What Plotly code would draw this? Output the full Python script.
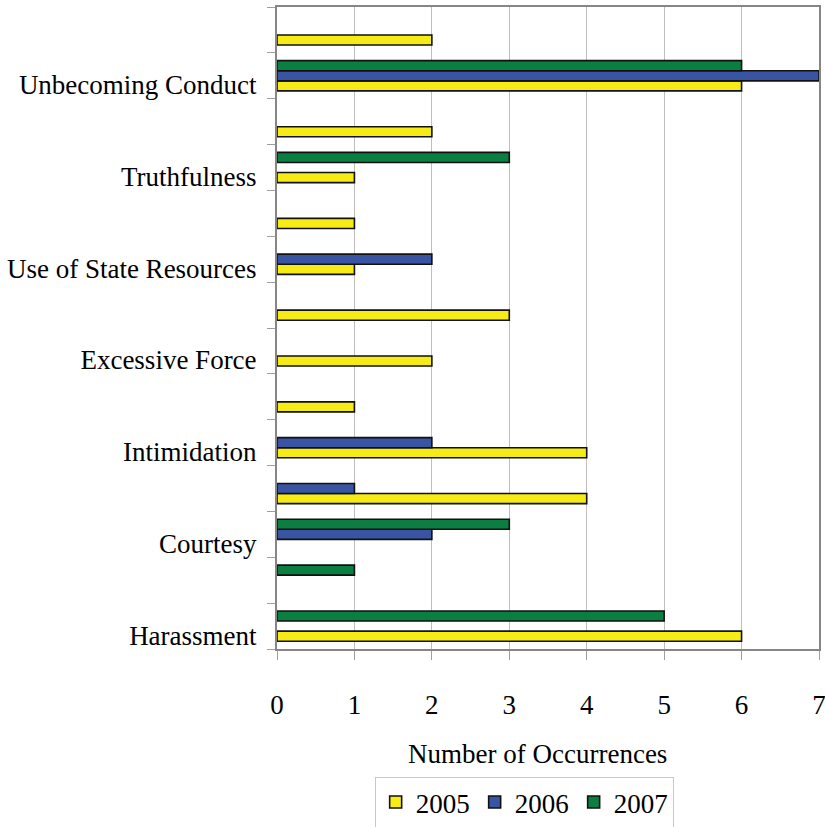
import plotly.graph_objects as go

# Categories, bottom to top (every other category label is hidden in the original chart)
categories = [
    "Harassment", "Category 2", "Courtesy", "Category 4", "Intimidation",
    "Category 6", "Excessive Force", "Category 8", "Use of State Resources",
    "Category 10", "Truthfulness", "Category 12", "Unbecoming Conduct", "Category 14",
]
shown_labels = ["Harassment", "", "Courtesy", "", "Intimidation", "", "Excessive Force",
                "", "Use of State Resources", "", "Truthfulness", "", "Unbecoming Conduct", ""]

years = ["2005", "2006", "2007"]
values_2005 = [6, 0, 0, 4, 4, 1, 2, 3, 1, 1, 1, 2, 6, 2]
values_2006 = [0, 0, 2, 1, 2, 0, 0, 0, 2, 0, 0, 0, 7, 0]
values_2007 = [5, 1, 3, 0, 0, 0, 0, 0, 0, 0, 3, 0, 6, 0]

x_ticks = [0, 1, 2, 3, 4, 5, 6, 7]

colors = {"2005": "#F6EB14", "2006": "#3A54A4", "2007": "#0A7F41"}
series = {"2005": values_2005, "2006": values_2006, "2007": values_2007}

FONT = "Liberation Serif, Times New Roman, serif"

fig = go.Figure()
for yr in years:
    fig.add_trace(go.Bar(
        y=categories,
        x=[v if v > 0 else None for v in series[yr]],  # zero counts draw no bar
        name=yr, orientation="h",
        marker=dict(color=colors[yr], line=dict(color="#111111", width=1.6)),
    ))

fig.update_layout(
    width=825, height=827,
    margin=dict(l=277, r=6, t=7, b=178, autoexpand=False),
    paper_bgcolor="white", plot_bgcolor="white",
    barmode="group", bargap=0.34, bargroupgap=0,
    font=dict(family=FONT, size=27, color="black"),
    showlegend=True,
    legend=dict(
        orientation="h", x=0.456, xanchor="center", y=-0.1994, yanchor="top",
        bordercolor="#C8C8C8", borderwidth=1, bgcolor="white",
        font=dict(family=FONT, size=27, color="black"),
        itemwidth=30, tracegroupgap=0,
    ),
    xaxis=dict(
        range=[0, 7], tickvals=x_ticks, showgrid=True, gridcolor="#BFBFBF", gridwidth=1,
        zeroline=False, showline=True, linecolor="#868686", linewidth=2, mirror=True,
        ticks="outside", ticklen=9, tickcolor="#A0A0A0", tickwidth=1,
        ticklabelstandoff=22, ticklabeloverflow="allow", automargin=False,
        tickfont=dict(family=FONT, size=27, color="black"),
    ),
    yaxis=dict(
        type="category", categoryorder="array", categoryarray=categories,
        tickvals=categories, ticktext=shown_labels, tickson="boundaries",
        showgrid=False, zeroline=False, showline=True, linecolor="#868686", linewidth=2,
        mirror=True, ticks="outside", ticklen=8, tickcolor="#A0A0A0", tickwidth=1,
        ticklabelstandoff=13, ticklabelshift=9, automargin=False,
        tickfont=dict(family=FONT, size=27, color="black"),
    ),
    annotations=[dict(
        text="Number of Occurrences", xref="paper", yref="paper",
        x=0.48, y=-0.1643, xanchor="center", yanchor="middle", showarrow=False,
        font=dict(family=FONT, size=27, color="black"),
    )],
)

# Remove the default page margin so the figure sits at the window's top-left corner
fig.write_html(
    "out.html",
    config={"displayModeBar": False},
    post_script="document.body.style.margin='0';document.body.style.overflow='hidden';",
)
